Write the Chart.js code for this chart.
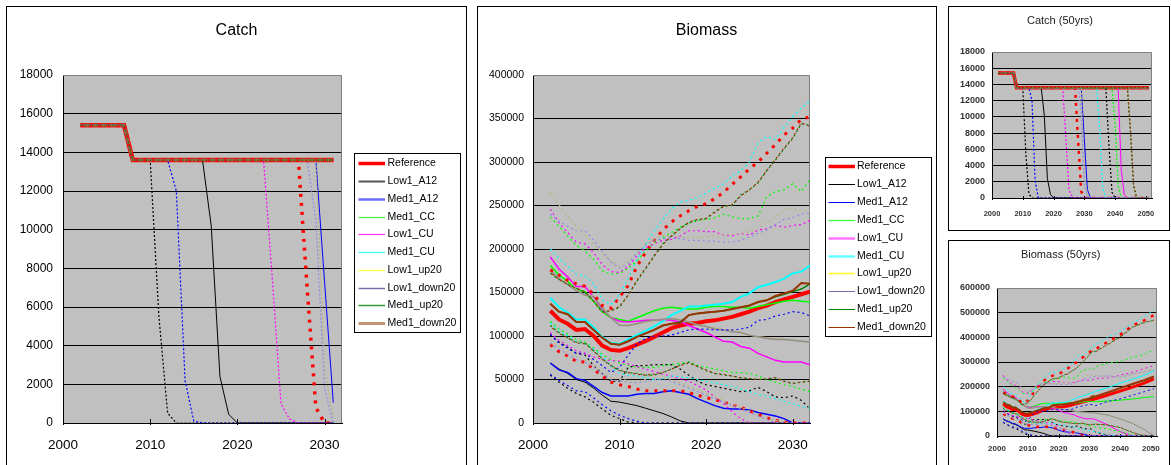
<!DOCTYPE html>
<html>
<head>
<meta charset="utf-8">
<title>Catch and biomass projections</title>
<script src="https://cdn.jsdelivr.net/npm/chart.js@4.4.1/dist/chart.umd.min.js"></script>
<style>
  html, body { margin: 0; padding: 0; background: #fff; width: 1171px; height: 465px; overflow: hidden; }
  .panel { position: absolute; border: 1px solid #000; background: #fff; overflow: hidden; }
  .panel canvas { display: block; }
</style>
</head>
<body>
<div class="panel" style="left:6px;top:6px;width:459px;height:470px"><canvas id="catch30" width="459" height="460"></canvas></div>
<div class="panel" style="left:477px;top:6px;width:458px;height:470px"><canvas id="bio30" width="458" height="460"></canvas></div>
<div class="panel" style="left:948px;top:6px;width:220px;height:223px"><canvas id="catch50" width="220" height="223"></canvas></div>
<div class="panel" style="left:948px;top:240px;width:220px;height:240px"><canvas id="bio50" width="220" height="230"></canvas></div>
<script>
// ---------------- years and axis ticks ----------------
const BIO_YEARS = [2002,2003,2004,2005,2006,2007,2008,2009,2010,2011,2012,2013,2014,2015,2016,2017,2018,2019,2020,2021,2022,2023,2024,2025,2026,2027,2028,2029,2030,2031,2032];
const BIO_EXT_YEARS = [2036,2040,2044,2048,2051];
const CATCH_YEARS = [2002,2003,2004,2005,2006,2007,2008,2009,2010,2011,2012,2013,2014,2015,2016,2017,2018,2019,2020,2021,2022,2023,2024,2025,2026,2027,2028,2029,2030,2031,2032,2033,2034,2035,2036,2037,2038,2039,2040,2041,2042,2043,2044,2045,2046,2047,2048,2049,2050,2051];
const X_TICKS_30 = [2000,2010,2020,2030];
const X_TICKS_50 = [2000,2010,2020,2030,2040,2050];

// ---------------- catch quota (t) ----------------
const CATCH_QUOTA = [15400,15400,15400,15400,15400,15400,
  13600,13600,13600,13600,13600,13600,13600,13600,13600,13600,13600,
  13600,13600,13600,13600,13600,13600,13600,13600,13600,13600,13600,
  13600,13600,13600,13600,13600,13600,13600,13600,13600,13600,13600,
  13600,13600,13600,13600,13600,13600,13600,13600,13600,13600,13600];

// catch when the stock can no longer support the quota: [year, catch]; zero afterwards
const CATCH_REF_LO         = [[2027,13600],[2028,7000],[2029,800],[2030,0]];
const CATCH_LOW1_A12       = [[2016,13600],[2017,10200],[2018,2400],[2019,450],[2020,0]];
const CATCH_LOW1_A12_HI    = [[2037,13600],[2038,6500],[2039,700],[2040,0]];
const CATCH_LOW1_A12_LO    = [[2010,13600],[2011,5500],[2012,500],[2013,0]];
const CATCH_MED1_A12       = [[2029,13600],[2030,7300],[2031,1050],[2032,0]];
const CATCH_MED1_A12_LO    = [[2012,13600],[2013,12000],[2014,2200],[2015,100],[2016,0]];
const CATCH_MED1_CC_LO     = [[2039,13600],[2040,9000],[2041,1500],[2042,0]];
const CATCH_LOW1_CU        = [[2041,13600],[2042,3500],[2043,400],[2044,0]];
const CATCH_LOW1_CU_LO     = [[2023,13600],[2024,7500],[2025,1000],[2026,200],[2027,0]];
const CATCH_MED1_CU_LO     = [[2034,13600],[2035,8500],[2036,1200],[2037,0]];
const CATCH_LOW1_UP20_LO   = [[2029,13600],[2030,2800],[2031,300],[2032,0]];
const CATCH_LOW1_DOWN20_LO = [[2028,13600],[2029,10500],[2030,1800],[2031,0]];
const CATCH_MED1_UP20_LO   = [[2044,13600],[2045,8000],[2046,1500],[2047,0]];
const CATCH_MED1_DOWN20_LO = [[2044,13600],[2045,8500],[2046,1800],[2047,0]];

// ---------------- biomass (thousand t), 2002-2032: median, upper, lower ----------------
const BIO_REF    = [129,119,114,107,108,100,89,84,83,86, 90,94,99,104,109,112,114,115,117,118, 120,122,125,128,132,135,139,142,145,148, 151];
const BIO_REF_HI = [176,170,164,160,157,148,135,132,145,158, 180,196,210,222,231,238,244,249,252,258, 265,274,283,292,300,310,320,331,339,349, 352];
const BIO_REF_LO = [90,82,77,71,70,62,54,47,44,42, 39,37,37,37,37,37,35,32,29,27, 24,21,18,14,10,6,3,1,0,0, 0];

const BIO_LOW1_A12    = [69,62,57,50,47,40,32,25,24,22, 20,17,14,11,7,2.5,0,0,0,0, 0,0,0,0,0,0,0,0,0,0, 0];
const BIO_LOW1_A12_HI = [101,93,87,80,78,66,57,48,48,64, 66,66,67,67,67,62,55,48,44,42, 40,38,36,37,41,36,30,29,31,26, 16];
const BIO_LOW1_A12_LO = [55,47,40,34,30,24,16,9,5,1, 0,0,0,0,0,0,0,0,0,0, 0,0,0,0,0,0,0,0,0,0, 0];

const BIO_MED1_A12    = [69,61,58,51,49,42,35,31,31,31, 33,34,34,36,37,35,33,28,24,20, 17,16,16,15,12,10,8,5,0,0, 0];
const BIO_MED1_A12_HI = [102,92,86,80,80,73,66,58,64,78, 91,97,100,100,101,104,107,108,108,107, 107,107,108,110,118,119,123,125,128,127, 123];
const BIO_MED1_A12_LO = [56,49,43,37,36,29,21,14,9,5, 2,0,0,0,0,0,0,0,0,0, 0,0,0,0,0,0,0,0,0,0, 0];

const BIO_MED1_CC    = [181,170,163,153,151,140,128,121,119,117, 121,125,129,132,133,132,131,131,133,134, 134,133,133,132,134,136,138,140,141,140, 139];
const BIO_MED1_CC_HI = [237,226,215,204,198,188,175,171,172,178, 186,198,207,213,219,225,230,233,234,236, 240,237,235,235,238,260,266,268,275,266, 280];
const BIO_MED1_CC_LO = [117,108,102,96,93,86,79,73,69,66, 64,64,64,66,67,69,70,66,64,62, 60,58,58,57,54,50,47,44,42,39, 36];

const BIO_LOW1_CU    = [191,177,168,157,157,145,131,121,117,116, 117,118,118,119,118,116,112,108,104,99, 94,93,88,86,80,76,72,70,70,70, 67];
const BIO_LOW1_CU_HI = [246,230,219,208,206,196,182,174,173,180, 192,201,206,210,211,215,221,221,220,220, 216,215,218,216,222,223,227,225,227,228, 233];
const BIO_LOW1_CU_LO = [104,95,89,83,80,76,73,72,71,68, 65,62,59,56,54,51,48,43,38,30, 22,13,5,0,0,0,0,0,0,0, 0];

const BIO_MED1_CU    = [144,133,127,119,119,110,99,92,91,96, 101,106,111,117,124,129,134,134,135,136, 137,139,145,149,156,159,162,166,172,174, 181];
const BIO_MED1_CU_HI = [200,189,180,171,169,160,142,136,148,166, 188,205,221,234,246,254,256,259,264,270, 275,284,290,300,322,329,326,340,352,362, 370];
const BIO_MED1_CU_LO = [115,106,100,93,91,85,77,65,57,55, 54,52,50,51,54,53,52,50,48,46, 44,42,39,36,33,31,28,25,22,19, 17];

const BIO_LOW1_UP20    = [175,166,160,153,147,146,133,121,113,112, 114,116,118,119,120,119,116,113,111,109, 107,106,104,101,99,98,97,96,95,94, 93];
const BIO_LOW1_UP20_HI = [265,251,238,226,216,206,196,186,180,186, 196,205,212,216,215,214,213,213,214,215, 216,217,218,220,224,230,237,245,247,243, 244];
const BIO_LOW1_UP20_LO = [95,88,82,76,72,66,58,52,50,49, 48,50,52,52,50,46,42,38,34,30, 26,22,18,14,10,6,3,1,0,0, 0];

const BIO_LOW1_DOWN20    = [176,166,159,152,147,145,132,121,112,112, 114,117,118,119,120,118,116,113,111,108, 107,105,104,101,99,97,96,96,95,94, 93];
const BIO_LOW1_DOWN20_HI = [240,232,226,221,221,210,197,185,178,183, 195,204,210,212,213,212,210,210,209,209, 208,208,210,214,218,222,228,234,236,240, 242];
const BIO_LOW1_DOWN20_LO = [92,85,79,73,70,64,56,50,48,47, 46,48,50,50,48,44,40,36,32,28, 24,20,16,12,8,4,1,0,0,0, 0];

const BIO_MED1_UP20    = [137,128,125,116,116,107,98,91,90,94, 99,103,107,112,114,116,124,126,127,128, 129,131,133,135,139,141,145,148,151,154, 160];
const BIO_MED1_UP20_HI = [172,165,160,155,150,140,128,129,133,147, 163,177,192,206,215,224,230,233,235,243, 249,250,262,268,276,290,302,315,327,344, 342];
const BIO_MED1_UP20_LO = [112,104,98,93,92,83,74,66,61,58, 57,55,55,58,62,67,70,65,60,57, 55,54,52,51,50,50,52,48,45,47, 48];

const BIO_MED1_DOWN20    = [137,128,125,116,116,107,98,91,90,94, 99,103,107,112,114,115,124,126,127,128, 129,131,133,135,139,141,146,149,152,161, 160];
const BIO_MED1_DOWN20_HI = [173,165,159,155,151,140,127,129,134,147, 164,178,192,205,215,223,231,234,235,242, 249,251,261,268,277,290,303,316,328,345, 341];
const BIO_MED1_DOWN20_LO = [111,103,98,92,91,83,73,66,60,58, 56,55,56,58,62,66,69,65,61,57, 56,54,52,51,50,51,52,48,46,47, 48];

// ---------------- biomass (thousand t) for the 50-year run, at BIO_EXT_YEARS ----------------
const EXT_REF = [166,182,198,215,232],  EXT_REF_HI = [382,410,448,470,490],  EXT_REF_LO = [0,0,0,0,0];
const EXT_LOW1_A12 = [0,0,0,0,0],       EXT_LOW1_A12_HI = [3,0,0,0,0],       EXT_LOW1_A12_LO = [0,0,0,0,0];
const EXT_MED1_A12 = [0,0,0,0,0],       EXT_MED1_A12_HI = [140,150,165,180,192], EXT_MED1_A12_LO = [0,0,0,0,0];
const EXT_MED1_CC = [142,145,150,156,160], EXT_MED1_CC_HI = [296,302,318,332,350], EXT_MED1_CC_LO = [28,18,3,0,0];
const EXT_LOW1_CU = [45,18,0,0,0],      EXT_LOW1_CU_HI = [236,246,258,274,286], EXT_LOW1_CU_LO = [0,0,0,0,0];
const EXT_MED1_CU = [196,214,230,246,265], EXT_MED1_CU_HI = [400,425,458,485,510], EXT_MED1_CU_LO = [4,0,0,0,0];
const EXT_LOW1_UP20 = [86,70,52,26,0],  EXT_LOW1_UP20_HI = [242,240,252,262,272], EXT_LOW1_UP20_LO = [0,0,0,0,0];
const EXT_LOW1_DOWN20 = [85,69,51,25,0], EXT_LOW1_DOWN20_HI = [244,238,250,260,268], EXT_LOW1_DOWN20_LO = [0,0,0,0,0];
const EXT_MED1_UP20 = [176,193,210,226,240], EXT_MED1_UP20_HI = [372,402,442,462,468], EXT_MED1_UP20_LO = [44,34,14,0,0];
const EXT_MED1_DOWN20 = [177,194,211,227,242], EXT_MED1_DOWN20_HI = [370,400,440,460,470], EXT_MED1_DOWN20_LO = [45,35,15,0,0];

// ---------------- scenario lookup: [median, upper, lower] ----------------
const SCENARIOS = ['Reference','Low1_A12','Med1_A12','Med1_CC','Low1_CU','Med1_CU','Low1_up20','Low1_down20','Med1_up20','Med1_down20'];
const BIO_TABLE = {
  Reference:   [BIO_REF, BIO_REF_HI, BIO_REF_LO],
  Low1_A12:    [BIO_LOW1_A12, BIO_LOW1_A12_HI, BIO_LOW1_A12_LO],
  Med1_A12:    [BIO_MED1_A12, BIO_MED1_A12_HI, BIO_MED1_A12_LO],
  Med1_CC:     [BIO_MED1_CC, BIO_MED1_CC_HI, BIO_MED1_CC_LO],
  Low1_CU:     [BIO_LOW1_CU, BIO_LOW1_CU_HI, BIO_LOW1_CU_LO],
  Med1_CU:     [BIO_MED1_CU, BIO_MED1_CU_HI, BIO_MED1_CU_LO],
  Low1_up20:   [BIO_LOW1_UP20, BIO_LOW1_UP20_HI, BIO_LOW1_UP20_LO],
  Low1_down20: [BIO_LOW1_DOWN20, BIO_LOW1_DOWN20_HI, BIO_LOW1_DOWN20_LO],
  Med1_up20:   [BIO_MED1_UP20, BIO_MED1_UP20_HI, BIO_MED1_UP20_LO],
  Med1_down20: [BIO_MED1_DOWN20, BIO_MED1_DOWN20_HI, BIO_MED1_DOWN20_LO]
};
const BIO_EXT_TABLE = {
  Reference:   [EXT_REF, EXT_REF_HI, EXT_REF_LO],
  Low1_A12:    [EXT_LOW1_A12, EXT_LOW1_A12_HI, EXT_LOW1_A12_LO],
  Med1_A12:    [EXT_MED1_A12, EXT_MED1_A12_HI, EXT_MED1_A12_LO],
  Med1_CC:     [EXT_MED1_CC, EXT_MED1_CC_HI, EXT_MED1_CC_LO],
  Low1_CU:     [EXT_LOW1_CU, EXT_LOW1_CU_HI, EXT_LOW1_CU_LO],
  Med1_CU:     [EXT_MED1_CU, EXT_MED1_CU_HI, EXT_MED1_CU_LO],
  Low1_up20:   [EXT_LOW1_UP20, EXT_LOW1_UP20_HI, EXT_LOW1_UP20_LO],
  Low1_down20: [EXT_LOW1_DOWN20, EXT_LOW1_DOWN20_HI, EXT_LOW1_DOWN20_LO],
  Med1_up20:   [EXT_MED1_UP20, EXT_MED1_UP20_HI, EXT_MED1_UP20_LO],
  Med1_down20: [EXT_MED1_DOWN20, EXT_MED1_DOWN20_HI, EXT_MED1_DOWN20_LO]
};
const CATCH_TABLE = {
  Reference:   [null, null, CATCH_REF_LO],
  Low1_A12:    [CATCH_LOW1_A12, CATCH_LOW1_A12_HI, CATCH_LOW1_A12_LO],
  Med1_A12:    [CATCH_MED1_A12, null, CATCH_MED1_A12_LO],
  Med1_CC:     [null, null, CATCH_MED1_CC_LO],
  Low1_CU:     [CATCH_LOW1_CU, null, CATCH_LOW1_CU_LO],
  Med1_CU:     [null, null, CATCH_MED1_CU_LO],
  Low1_up20:   [null, null, CATCH_LOW1_UP20_LO],
  Low1_down20: [null, null, CATCH_LOW1_DOWN20_LO],
  Med1_up20:   [null, null, CATCH_MED1_UP20_LO],
  Med1_down20: [null, null, CATCH_MED1_DOWN20_LO]
};

// ---------------- line styles ----------------
const LINE_COLOR = {
  Reference: '#FF0000', Low1_A12: '#000000', Med1_A12: '#0000FF', Med1_CC: '#00FF00',
  Low1_CU: '#FF00FF', Med1_CU: '#00FFFF', Low1_up20: '#BDB57A', Low1_down20: '#8C8CE8',
  Med1_up20: '#008000', Med1_down20: '#993300'
};
// legend samples [colour, width]
const CATCH_KEY = {
  Reference: ['#FF0000', 3.5], Low1_A12: ['#555555', 2], Med1_A12: ['#6B6BFF', 2.5], Med1_CC: ['#44EE44', 1.2],
  Low1_CU: ['#FF33FF', 1.2], Med1_CU: ['#33FFFF', 1.2], Low1_up20: ['#FFFF33', 1.2], Low1_down20: ['#7272A8', 1.5],
  Med1_up20: ['#339933', 1.5], Med1_down20: ['#C39272', 3]
};
const BIO_KEY = {
  Reference: ['#FF0000', 3.5], Low1_A12: ['#000000', 1], Med1_A12: ['#0000FF', 1], Med1_CC: ['#33FF33', 1.2],
  Low1_CU: ['#FF77FF', 2.5], Med1_CU: ['#66FFFF', 2.5], Low1_up20: ['#FFFF22', 1.5], Low1_down20: ['#7070B0', 1],
  Med1_up20: ['#008000', 1], Med1_down20: ['#993300', 1]
};

function catchLook(small) {
  return (name, part) => {
    const s = { color: LINE_COLOR[name], width: 1, dash: [] };
    if (part === 0) {
      if (name === 'Reference') s.width = small ? 3.5 : 4.5;
      if (name === 'Med1_down20') { s.color = '#9C6A3A'; s.width = small ? 2 : 3; }
    } else if (name === 'Reference') { s.width = small ? 2.5 : 3.5; s.dash = small ? [3, 5] : [3, 6]; }
    else { s.width = 1.2; s.dash = [2, 2]; }
    return s;
  };
}
function bioLook(small) {
  const med = { Reference: 4, Low1_A12: 1, Med1_A12: 1.5, Med1_CC: 1.5, Low1_CU: 1.5, Med1_CU: 2,
                Low1_up20: 1.5, Low1_down20: 1.5, Med1_up20: 1.5, Med1_down20: 2 };
  return (name, part) => {
    const s = { color: LINE_COLOR[name], width: small ? 1 : med[name], dash: [], offset: 0 };
    if (part === 0) {
      if (name === 'Reference') s.width = small ? 3 : 4;
      if (name === 'Med1_down20' && small) s.width = 2;
      if (name === 'Low1_down20') s.color = 'rgba(120,116,140,0.6)';
    } else if (name === 'Reference') { s.width = small ? 2.5 : 3; s.dash = [3, 6]; }
    else {
      s.width = small ? 1 : 1.2; s.dash = [2, 3];
      if (name === 'Med1_down20') s.offset = 2.5;
    }
    return s;
  };
}

// ---------------- point builders ----------------
function catchPoints(drop, lastYear) {
  const pts = [];
  CATCH_YEARS.forEach((yr, i) => {
    if (yr > lastYear) return;
    let v = CATCH_QUOTA[i];
    if (drop && yr >= drop[0][0]) {
      const hit = drop.find(p => p[0] === yr);
      v = hit ? hit[1] : 0;
    }
    pts.push({ x: yr, y: v });
  });
  return pts;
}
function bioPoints(vals, ext, long) {
  const pts = BIO_YEARS.map((yr, i) => ({ x: yr, y: vals[i] * 1000 }));
  if (long) BIO_EXT_YEARS.forEach((yr, i) => pts.push({ x: yr, y: ext[i] * 1000 }));
  return pts;
}

// medians first, then upper bounds, then lower bounds; later series are painted on top
function makeSets(kind, long, look, key) {
  const sets = [];
  [0, 1, 2].forEach(part => {
    SCENARIOS.forEach(name => {
      const data = kind === 'catch'
        ? catchPoints(CATCH_TABLE[name][part], long ? 2051 : 2031)
        : bioPoints(BIO_TABLE[name][part], BIO_EXT_TABLE[name][part], long);
      const s = look(name, part);
      sets.push({
        label: part === 0 ? name : name + (part === 1 ? ' upper' : ' lower'),
        data,
        borderColor: s.color,
        borderWidth: s.width,
        borderDash: s.dash,
        borderDashOffset: s.offset || 0,
        pointRadius: 0,
        fill: false,
        tension: 0,
        inLegend: part === 0,
        legendColor: key ? key[name][0] : s.color,
        legendWidth: key ? key[name][1] : s.width
      });
    });
  });
  sets.forEach((d, i) => { d.order = -i; });
  return sets;
}

// ---------------- plot frame, title and boxed legend ----------------
const panelDecor = {
  id: 'panelDecor',
  beforeDraw(chart) {
    const { ctx, chartArea: a } = chart;
    ctx.save();
    ctx.fillStyle = '#C0C0C0';
    ctx.fillRect(a.left, a.top, a.right - a.left, a.bottom - a.top);
    ctx.restore();
  },
  beforeDatasetsDraw(chart, args, o) {
    const { ctx, chartArea: a } = chart;
    ctx.save();
    ctx.strokeStyle = '#808080';
    ctx.lineWidth = 1;
    ctx.beginPath();
    ctx.moveTo(a.left, a.top + 0.5);
    ctx.lineTo(a.right - 0.5, a.top + 0.5);
    ctx.lineTo(a.right - 0.5, a.bottom);
    ctx.stroke();
    ctx.strokeStyle = '#000';
    ctx.beginPath();
    const xs = chart.scales.x;
    o.xTicks.forEach(v => {
      const px = Math.round(xs.getPixelForValue(v)) + 0.5;
      ctx.moveTo(px, a.bottom - o.tick);
      ctx.lineTo(px, a.bottom + 2);
    });
    ctx.stroke();
    ctx.restore();
  },
  afterDraw(chart, args, o) {
    const ctx = chart.ctx;
    ctx.save();
    ctx.fillStyle = o.titleColor;
    ctx.font = o.titleFont;
    ctx.textAlign = 'center';
    ctx.textBaseline = 'middle';
    ctx.fillText(o.title, o.titleX, o.titleY);
    const L = o.legend;
    if (L) {
      ctx.fillStyle = '#fff';
      ctx.fillRect(L.x, L.y, L.w, L.h);
      ctx.strokeStyle = '#000';
      ctx.lineWidth = 1;
      ctx.strokeRect(L.x, L.y, L.w, L.h);
      ctx.font = L.font;
      ctx.textAlign = 'left';
      ctx.textBaseline = 'middle';
      let row = 0;
      chart.data.datasets.forEach(d => {
        if (!d.inLegend) return;
        const y = Math.round(L.row0 + row * L.pitch) + 0.5;
        ctx.setLineDash([]);
        ctx.strokeStyle = d.legendColor;
        ctx.lineWidth = d.legendWidth;
        ctx.beginPath();
        ctx.moveTo(L.sx0, y);
        ctx.lineTo(L.sx1, y);
        ctx.stroke();
        ctx.fillStyle = '#000';
        ctx.fillText(d.label, L.tx, y);
        row++;
      });
    }
    ctx.restore();
  }
};

const FONT = '"Liberation Sans", Arial, sans-serif';

function buildChart(id, c) {
  const canvas = document.getElementById(id);
  const W = canvas.width, H = canvas.height;
  return new Chart(canvas, {
    type: 'line',
    data: { datasets: c.datasets },
    options: {
      responsive: false,
      animation: false,
      devicePixelRatio: 1,
      layout: { padding: { left: 0, top: c.area.top, right: W - c.area.right, bottom: 0 } },
      elements: { point: { radius: 0 }, line: { tension: 0 } },
      plugins: {
        legend: { display: false },
        tooltip: { enabled: false },
        panelDecor: {
          title: c.title, titleFont: c.titleFont, titleColor: c.titleColor, titleX: c.titleX, titleY: c.titleY,
          legend: c.legend || null, xTicks: c.xTicks, tick: c.tick
        }
      },
      scales: {
        x: {
          type: 'linear', min: c.xMin, max: c.xMax,
          afterFit: s => { s.height = H - c.area.bottom; },
          afterBuildTicks: s => { s.ticks = c.xTicks.map(v => ({ value: v })); },
          grid: { display: false },
          border: { display: true, color: '#000', width: 1 },
          ticks: { autoSkip: false, maxRotation: 0, padding: c.xPad, color: c.tickColor,
                   font: { family: FONT, size: c.xFont, weight: c.tickWeight },
                   callback: v => String(v) }
        },
        y: {
          type: 'linear', min: 0, max: c.yMax,
          afterFit: s => { s.width = c.area.left; },
          grid: { drawTicks: false, lineWidth: 1,
                  color: ctx => (ctx.tick && ctx.tick.value === c.yMax) ? 'rgba(0,0,0,0)' : '#000' },
          border: { display: true, color: '#000', width: 1 },
          ticks: { stepSize: c.yStep, padding: c.yPad, color: c.tickColor,
                   font: { family: FONT, size: c.yFont, weight: c.tickWeight },
                   callback: v => String(v) }
        }
      }
    },
    plugins: [panelDecor]
  });
}

buildChart('catch30', {
  datasets: makeSets('catch', false, catchLook(false), CATCH_KEY),
  area: { left: 56, right: 335, top: 68, bottom: 416 },
  xMin: 2000, xMax: 2032, xTicks: X_TICKS_30, yMax: 18000, yStep: 2000,
  xFont: 13.5, yFont: 12, xPad: 6, yPad: 10, tickColor: '#000', tickWeight: 'normal', tick: 4,
  title: 'Catch', titleFont: '16px ' + FONT, titleColor: '#000', titleX: 229.5, titleY: 23.5,
  legend: { x: 347.5, y: 146.5, w: 106, h: 179, row0: 156.3, pitch: 17.75, sx0: 351.5, sx1: 378, tx: 380.5, font: '10.5px ' + FONT }
});

buildChart('bio30', {
  datasets: makeSets('bio', false, bioLook(false), BIO_KEY),
  area: { left: 55, right: 332, top: 68, bottom: 416 },
  xMin: 2000, xMax: 2032, xTicks: X_TICKS_30, yMax: 400000, yStep: 50000,
  xFont: 13.5, yFont: 10.5, xPad: 6, yPad: 9, tickColor: '#000', tickWeight: 'normal', tick: 4,
  title: 'Biomass', titleFont: '16px ' + FONT, titleColor: '#000', titleX: 228.5, titleY: 23.5,
  legend: { x: 347.5, y: 150.5, w: 106, h: 179, row0: 159, pitch: 17.9, sx0: 350.5, sx1: 377, tx: 379, font: '10.5px ' + FONT }
});

buildChart('catch50', {
  datasets: makeSets('catch', true, catchLook(true), null),
  area: { left: 43, right: 203, top: 45, bottom: 191 },
  xMin: 2000, xMax: 2052, xTicks: X_TICKS_50, yMax: 18000, yStep: 2000,
  xFont: 7.5, yFont: 9, xPad: 3, yPad: 7, tickColor: '#333', tickWeight: 'bold', tick: 2,
  title: 'Catch (50yrs)', titleFont: '11px ' + FONT, titleColor: '#222', titleX: 111, titleY: 14
});

buildChart('bio50', {
  datasets: makeSets('bio', true, bioLook(true), null),
  area: { left: 48, right: 208, top: 47, bottom: 195 },
  xMin: 2000, xMax: 2052, xTicks: X_TICKS_50, yMax: 600000, yStep: 100000,
  xFont: 8, yFont: 9, xPad: 0, yPad: 7, tickColor: '#333', tickWeight: 'bold', tick: 2,
  title: 'Biomass (50yrs)', titleFont: '11px ' + FONT, titleColor: '#222', titleX: 111.7, titleY: 14
});
</script>
</body>
</html>
